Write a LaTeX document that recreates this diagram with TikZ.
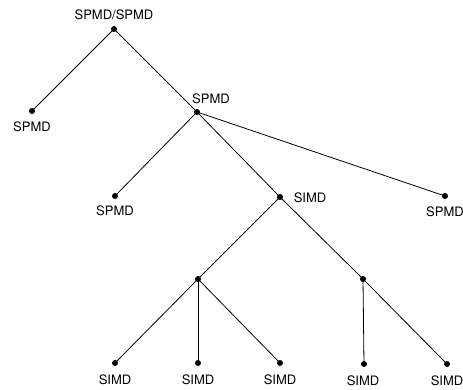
\documentclass[tikz,border=0pt]{standalone}
\usepackage{fontspec}
\setmainfont{TeX Gyre Heros}
\begin{document}
\begin{tikzpicture}[x=1pt,y=-1pt,
  dot/.style={circle,fill=black,inner sep=0pt,minimum size=6pt},
  lbl/.style={font=\fontsize{13}{15}\selectfont,inner sep=0pt},
  edge/.style={line width=0.8pt}]
\useasboundingbox (0,0) rectangle (463,390);
% nodes
\node[dot] (r) at (114,29) {};
\node[dot] (a) at (32,111) {};
\node[dot] (b) at (197,112) {};
\node[dot] (c) at (115,196) {};
\node[dot] (d) at (280,197) {};
\node[dot] (e) at (445,196) {};
\node[dot] (f) at (198,279) {};
\node[dot] (g) at (363,279) {};
\node[dot] (l1) at (115,363) {};
\node[dot] (l2) at (198,363) {};
\node[dot] (l3) at (280,363) {};
\node[dot] (l4) at (364,364) {};
\node[dot] (l5) at (447,364) {};
% labels
\node[lbl] (tr) at (114,15) {SPMD/SPMD};
\node[lbl] (ta) at (32,127) {SPMD};
\node[lbl] (tb) at (211,99) {SPMD};
\node[lbl] (tc) at (115,211) {SPMD};
\node[lbl] (td) at (310,198) {SIMD};
\node[lbl] (te) at (445,212) {SPMD};
\node[lbl] (t1) at (115,380) {SIMD};
\node[lbl] (t2) at (198,380) {SIMD};
\node[lbl] (t3) at (280,380) {SIMD};
\node[lbl] (t4) at (363,381) {SIMD};
\node[lbl] (t5) at (447,381) {SIMD};
% edges
\draw[edge] (r.center) -- (a.center);
\draw[edge] (r.center) -- (b.center);
\draw[edge] (b.center) -- (c.center);
\draw[edge] (b.center) -- (d.center);
\draw[edge] (b.center) -- (e.center);
\draw[edge] (d.center) -- (f.center);
\draw[edge] (d.center) -- (g.center);
\draw[edge] (f.center) -- (l1.center);
\draw[edge] (f.center) -- (l2.center);
\draw[edge] (f.center) -- (l3.center);
\draw[edge] (g.center) -- (l4.center);
\draw[edge] (g.center) -- (l5.center);
\end{tikzpicture}
\end{document}
